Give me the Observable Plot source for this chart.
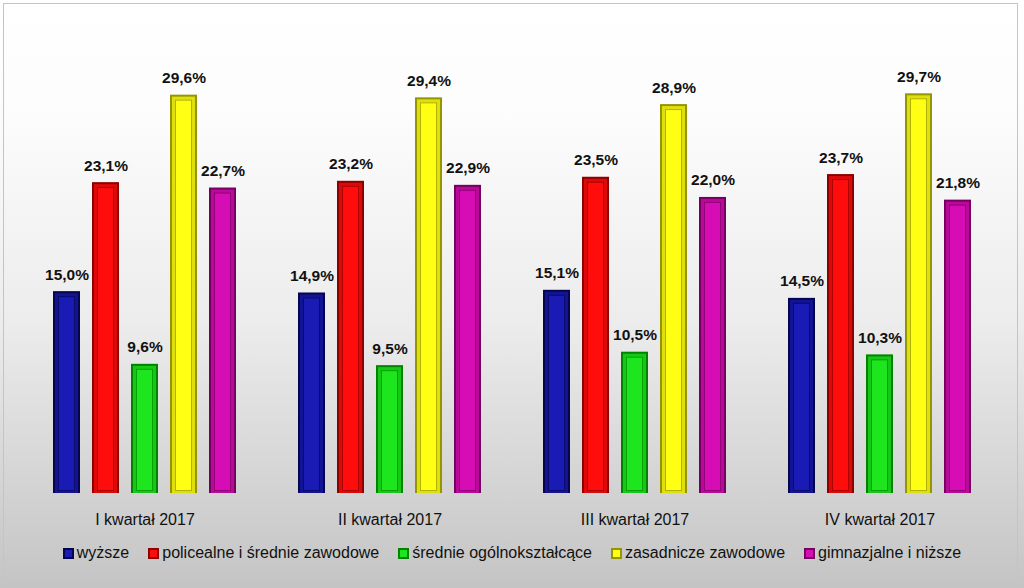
<!DOCTYPE html>
<html>
<head>
<meta charset="utf-8">
<script src="https://cdn.jsdelivr.net/npm/d3@7"></script>
<script src="https://cdn.jsdelivr.net/npm/@observablehq/plot@0.6"></script>
<style>
  html, body { margin: 0; padding: 0; background: #ffffff; }
  #wrap {
    position: relative; width: 1024px; height: 588px; overflow: hidden;
    background: linear-gradient(to bottom, #ffffff 0%, #fcfcfc 20%, #ececec 55%, #c4c4c4 100%);
    font-family: "Liberation Sans", Arial, sans-serif;
  }
  #frame {
    position: absolute; left: 3px; top: 3px; width: 1015px; height: 579px;
    border: 1px solid #c4c4c4; box-sizing: border-box; pointer-events: none;
  }
  #chart { position: absolute; left: 0; top: 0; }
  #legend {
    position: absolute; left: 0; top: 542px; width: 1024px; height: 22px;
    display: flex; justify-content: center; align-items: center; gap: 19px;
    font-size: 16px; color: #111;
  }
  .item { display: flex; align-items: center; gap: 3px; white-space: nowrap; }
  .sw { width: 11px; height: 11px; box-sizing: border-box; border: 2px solid; display: inline-block; }
</style>
</head>
<body>
<div id="wrap">
  <div id="chart"></div>
  <div id="legend"></div>
  <div id="frame"></div>
</div>
<script>
const quarters = ["I kwartał 2017", "II kwartał 2017", "III kwartał 2017", "IV kwartał 2017"];
const seriesNames = ["wyższe", "policealne i średnie zawodowe", "średnie ogólnokształcące", "zasadnicze zawodowe", "gimnazjalne i niższe"];
const wyzsze      = [15.0, 14.9, 15.1, 14.5];
const policealne  = [23.1, 23.2, 23.5, 23.7];
const srednieOgol = [9.6, 9.5, 10.5, 10.3];
const zasadnicze  = [29.6, 29.4, 28.9, 29.7];
const gimnazjalne = [22.7, 22.9, 22.0, 21.8];
const brightColors = ["#1a1ab4", "#ff0d0d", "#1ee61e", "#ffff14", "#d60cb4"];
const darkColors   = ["#06064e", "#8c0000", "#008400", "#959500", "#76005f"];

const seriesValues = [wyzsze, policealne, srednieOgol, zasadnicze, gimnazjalne];
const data = [];
quarters.forEach((q, qi) => {
  seriesNames.forEach((s, si) => {
    data.push({quarter: q, series: s, value: seriesValues[si][qi]});
  });
});
const fmt = v => v.toFixed(1).replace(".", ",") + "%";

const common = {x: "series", y: "value", fx: "quarter"};
const chart = Plot.plot({
  width: 1024,
  height: 535,
  marginLeft: 22,
  marginRight: 22,
  marginTop: 22,
  marginBottom: 42,
  style: {background: "transparent", fontFamily: "Liberation Sans, Arial, sans-serif"},
  fx: {domain: quarters, paddingInner: 0.253, paddingOuter: 0.1265, label: null, tickSize: 0, tickPadding: 20, fontSize: 16},
  x: {domain: seriesNames, paddingInner: 0.308, paddingOuter: 0, axis: null},
  y: {domain: [0, 35], axis: null},
  color: {domain: seriesNames, range: brightColors},
  marks: [
    Plot.barY(data, {...common, fill: d => darkColors[seriesNames.indexOf(d.series)]}),
    Plot.barY(data, {...common, fill: "series", insetLeft: 2, insetRight: 2, insetTop: 2, fillOpacity: 0.7}),
    Plot.barY(data, {...common, fill: d => darkColors[seriesNames.indexOf(d.series)], insetLeft: 5, insetRight: 5, insetTop: 5, insetBottom: 2, fillOpacity: 0.6}),
    Plot.barY(data, {...common, fill: "series", insetLeft: 6, insetRight: 6, insetTop: 6, insetBottom: 3}),
    Plot.text(data, {...common, text: d => fmt(d.value), dy: -17, fontWeight: "bold", fontSize: 15.5, fill: "#111"})
  ]
});
chart.querySelectorAll("g[aria-label='fx-axis tick label']").forEach(g => {
  g.setAttribute("font-size", 16);
  g.setAttribute("fill", "#111");
});
document.getElementById("chart").appendChild(chart);

const legend = document.getElementById("legend");
seriesNames.forEach((s, i) => {
  const it = document.createElement("div");
  it.className = "item";
  const sw = document.createElement("span");
  sw.className = "sw";
  sw.style.background = brightColors[i];
  sw.style.borderColor = darkColors[i];
  const t = document.createElement("span");
  t.textContent = s;
  it.appendChild(sw);
  it.appendChild(t);
  legend.appendChild(it);
});
</script>
</body>
</html>
